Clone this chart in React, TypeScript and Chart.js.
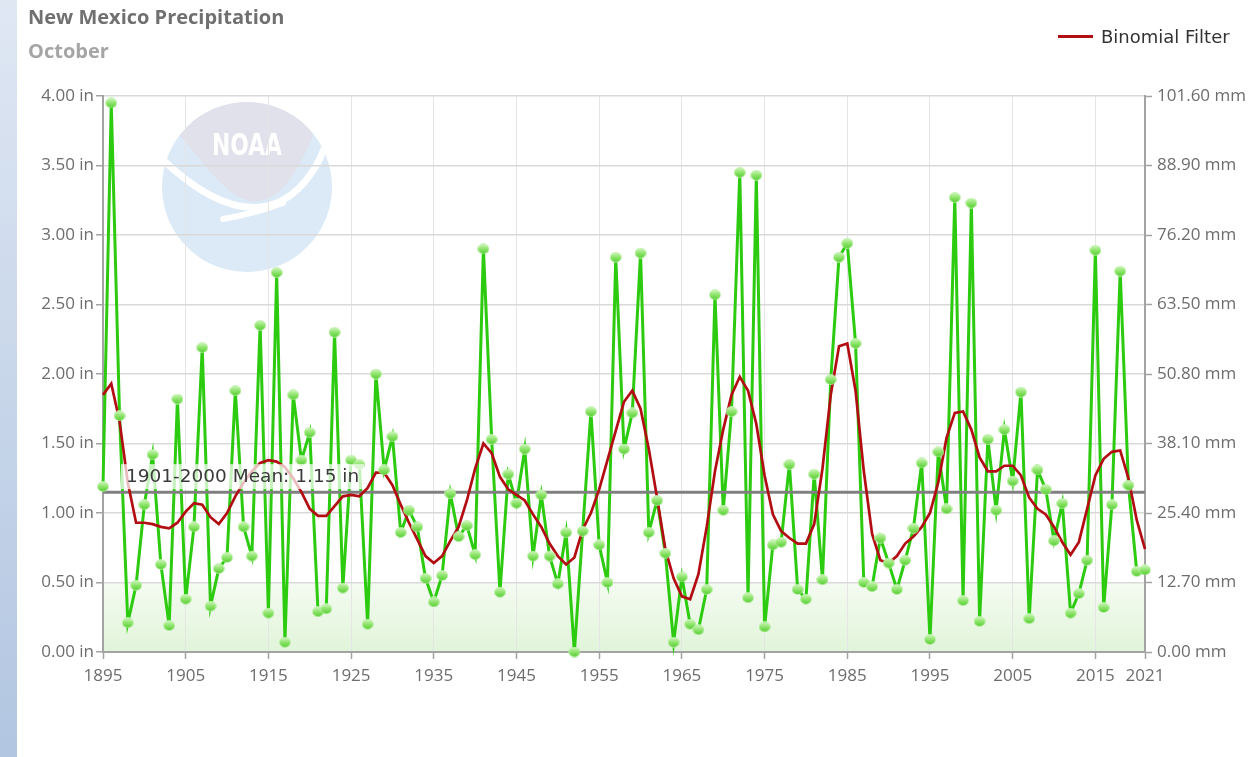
import React, { useEffect, useRef } from 'react';
import { Chart, registerables } from 'chart.js';

Chart.register(...registerables);

// ---------------- data ----------------
const START_YEAR = 1895;

// October precipitation, New Mexico (inches), 1895..2021
const PRECIP_IN = [
  1.19, 3.95, 1.70, 0.21, 0.48,
  1.06, 1.42, 0.63, 0.19, 1.82, 0.38, 0.90, 2.19, 0.33, 0.60,
  0.68, 1.88, 0.90, 0.69, 2.35, 0.28, 2.73, 0.07, 1.85, 1.38,
  1.58, 0.29, 0.31, 2.30, 0.46, 1.38, 1.35, 0.20, 2.00, 1.31,
  1.55, 0.86, 1.02, 0.90, 0.53, 0.36, 0.55, 1.14, 0.83, 0.91,
  0.70, 2.90, 1.53, 0.43, 1.28, 1.07, 1.46, 0.69, 1.13, 0.69,
  0.49, 0.86, 0.00, 0.87, 1.73, 0.77, 0.50, 2.84, 1.46, 1.72,
  2.87, 0.86, 1.09, 0.71, 0.07, 0.54, 0.20, 0.16, 0.45, 2.57,
  1.02, 1.73, 3.45, 0.39, 3.43, 0.18, 0.77, 0.79, 1.35, 0.45,
  0.38, 1.28, 0.52, 1.96, 2.84, 2.94, 2.22, 0.50, 0.47, 0.82,
  0.64, 0.45, 0.66, 0.89, 1.36, 0.09, 1.44, 1.03, 3.27, 0.37,
  3.23, 0.22, 1.53, 1.02, 1.60, 1.23, 1.87, 0.24, 1.31, 1.17,
  0.80, 1.07, 0.28, 0.42, 0.66, 2.89, 0.32, 1.06, 2.74, 1.20,
  0.58, 0.59,
];

// Binomial filter (inches), 1895..2021
const FILTER_IN = [
  1.85, 1.93, 1.66, 1.22, 0.93,
  0.93, 0.92, 0.90, 0.89, 0.93, 1.01, 1.07, 1.06, 0.97, 0.92,
  1.00, 1.12, 1.22, 1.30, 1.36, 1.38, 1.37, 1.33, 1.25, 1.15,
  1.03, 0.98, 0.98, 1.05, 1.12, 1.13, 1.12, 1.18, 1.29, 1.29,
  1.20, 1.06, 0.93, 0.81, 0.69, 0.64, 0.69, 0.80, 0.90, 1.09,
  1.32, 1.50, 1.43, 1.26, 1.17, 1.13, 1.09, 0.99, 0.90, 0.78,
  0.69, 0.63, 0.68, 0.88, 1.00, 1.17, 1.38, 1.59, 1.80, 1.88,
  1.75, 1.46, 1.11, 0.74, 0.53, 0.40, 0.38, 0.56, 0.90, 1.30,
  1.60, 1.85, 1.98, 1.88, 1.64, 1.27, 0.99, 0.87, 0.82, 0.78,
  0.78, 0.92, 1.32, 1.85, 2.20, 2.22, 1.88, 1.30, 0.85, 0.66,
  0.64, 0.69, 0.78, 0.83, 0.90, 1.00, 1.22, 1.54, 1.72, 1.73,
  1.60, 1.40, 1.30, 1.30, 1.34, 1.34, 1.27, 1.11, 1.03, 0.99,
  0.90, 0.79, 0.70, 0.79, 1.03, 1.27, 1.39, 1.44, 1.45, 1.25,
  0.95, 0.74,
];

const YEARS = PRECIP_IN.map((_, i) => START_YEAR + i);
const END_YEAR = YEARS[YEARS.length - 1];

const MEAN_1901_2000 = 1.15;
const YEAR_TICKS = [1895, 1905, 1915, 1925, 1935, 1945, 1955, 1965, 1975, 1985, 1995, 2005, 2015, 2021];
const IN_TICKS = [0, 0.5, 1, 1.5, 2, 2.5, 3, 3.5, 4];
const MM_PER_IN = 25.4;
const SHADE_TOP_IN = 0.5;

const TITLE = 'New Mexico Precipitation';
const SUBTITLE = 'October';
const LEGEND_LABEL = 'Binomial Filter';
const MEAN_LABEL = '1901-2000 Mean: 1.15 in';

// ---------------- styles ----------------
const GREEN = '#2ccb10';
const RED = '#b20d12';
const AXIS = '#a3a3a3';
const TICK_TEXT = '#6d6d6d';
const TICK_FONT = { family: '"Open Sans", sans-serif', size: 17 };

function makeMarker(): HTMLCanvasElement {
  const c = document.createElement('canvas');
  c.width = 12;
  c.height = 11;
  const g = c.getContext('2d')!;
  const grad = g.createLinearGradient(0, 0, 0, 11);
  grad.addColorStop(0, '#d8f9ca');
  grad.addColorStop(0.45, '#94e672');
  grad.addColorStop(1, '#4fcc2c');
  g.beginPath();
  g.ellipse(6, 5.5, 5.5, 5, 0, 0, Math.PI * 2);
  g.fillStyle = grad;
  g.fill();
  g.lineWidth = 0.8;
  g.strokeStyle = 'rgba(190,240,170,0.9)';
  g.stroke();
  return c;
}

const backdropPlugin = {
  id: 'backdrop',
  beforeDraw(chart: any) {
    const { ctx, chartArea } = chart;
    const y = chart.scales.y;
    const { left, right, top } = chartArea;
    // light green band
    const y0 = y.getPixelForValue(0);
    const y1 = y.getPixelForValue(SHADE_TOP_IN);
    ctx.save();
    const band = ctx.createLinearGradient(0, y1, 0, y0);
    band.addColorStop(0, '#f4fbf1');
    band.addColorStop(1, '#e1f4da');
    ctx.fillStyle = band;
    ctx.fillRect(left, y1, right - left, y0 - y1);
    ctx.restore();

    // NOAA watermark
    const cx = left + 144;
    const cy = top + 91;
    const r = 85;
    ctx.save();
    ctx.beginPath();
    ctx.arc(cx, cy, r, 0, Math.PI * 2);
    ctx.fillStyle = '#dbeaf6';
    ctx.fill();
    ctx.clip();
    ctx.beginPath();
    ctx.moveTo(cx - 70, cy - 55);
    ctx.bezierCurveTo(cx - 40, cy - 20, cx - 15, cy + 18, cx + 12, cy + 14);
    ctx.bezierCurveTo(cx + 40, cy + 10, cx + 58, cy - 30, cx + 68, cy - 58);
    ctx.lineTo(cx + 100, cy - 110);
    ctx.lineTo(cx - 100, cy - 110);
    ctx.closePath();
    ctx.fillStyle = '#e0e1ea';
    ctx.fill();
    ctx.strokeStyle = '#ffffff';
    ctx.lineCap = 'round';
    ctx.lineWidth = 7;
    ctx.beginPath();
    ctx.moveTo(cx - 85, cy - 28);
    ctx.bezierCurveTo(cx - 45, cy + 10, cx - 5, cy + 30, cx + 30, cy + 16);
    ctx.bezierCurveTo(cx + 55, cy + 5, cx + 70, cy - 20, cx + 78, cy - 40);
    ctx.stroke();
    ctx.lineWidth = 6;
    ctx.beginPath();
    ctx.moveTo(cx - 24, cy + 32);
    ctx.quadraticCurveTo(cx + 10, cy + 26, cx + 36, cy + 16);
    ctx.stroke();
    ctx.font = 'bold 30px "DejaVu Sans"';
    const tw = ctx.measureText('NOAA').width;
    ctx.translate(cx, cy - 32);
    ctx.scale(70 / tw, 1);
    ctx.fillStyle = '#ffffff';
    ctx.textAlign = 'center';
    ctx.textBaseline = 'alphabetic';
    ctx.fillText('NOAA', 0, 0);
    ctx.restore();
  },
};

const meanLabelPlugin = {
  id: 'meanLabel',
  afterDatasetsDraw(chart: any) {
    const { ctx, chartArea } = chart;
    const yp = chart.scales.y.getPixelForValue(MEAN_1901_2000);
    const x = chartArea.left + 23;
    ctx.save();
    ctx.font = '18.5px "DejaVu Sans"';
    const w = ctx.measureText(MEAN_LABEL).width;
    ctx.fillStyle = 'rgba(255,255,255,0.72)';
    ctx.fillRect(x - 5, yp - 28, w + 10, 25);
    ctx.fillStyle = '#3a3a3a';
    ctx.textBaseline = 'alphabetic';
    ctx.fillText(MEAN_LABEL, x, yp - 10);
    ctx.restore();
  },
};

export default function App() {
  const ref = useRef<HTMLCanvasElement | null>(null);

  useEffect(() => {
    if (!ref.current) return;
    const marker = makeMarker();
    const precipPts = PRECIP_IN.map((v, i) => ({ x: YEARS[i], y: v }));
    const filterPts = FILTER_IN.map((v, i) => ({ x: YEARS[i], y: v }));
    const meanPts = [
      { x: START_YEAR, y: MEAN_1901_2000 },
      { x: END_YEAR, y: MEAN_1901_2000 },
    ];
    const setTicks = (vals: number[]) => (s: any) => {
      s.ticks = vals.map((v) => ({ value: v }));
    };

    const chart = new Chart(ref.current, {
      type: 'line',
      data: {
        datasets: [
          {
            label: 'Precipitation',
            data: precipPts,
            borderColor: GREEN,
            borderWidth: 3,
            pointRadius: 0,
            tension: 0,
            fill: false,
            order: 4,
            clip: false,
          },
          {
            label: '1901-2000 Mean',
            data: meanPts,
            borderColor: '#808080',
            borderWidth: 3,
            pointRadius: 0,
            fill: false,
            order: 3,
            clip: false,
          },
          {
            label: LEGEND_LABEL,
            data: filterPts,
            borderColor: RED,
            borderWidth: 2.7,
            pointRadius: 0,
            tension: 0,
            fill: false,
            order: 2,
            clip: false,
          },
          {
            label: 'Precipitation points',
            data: precipPts,
            showLine: false,
            pointStyle: marker as any,
            pointRadius: 5,
            order: 1,
            clip: false,
          },
        ],
      },
      options: {
        responsive: false,
        devicePixelRatio: 1,
        animation: false,
        events: [],
        layout: { padding: { top: 96, left: 0, right: 0, bottom: 0 } },
        plugins: {
          legend: { display: false },
          tooltip: { enabled: false },
          title: { display: false },
        },
        scales: {
          x: {
            type: 'linear',
            min: START_YEAR,
            max: END_YEAR,
            afterBuildTicks: setTicks(YEAR_TICKS),
            afterFit: (s: any) => {
              s.height = 105;
            },
            ticks: {
              autoSkip: false,
              maxRotation: 0,
              color: TICK_TEXT,
              font: TICK_FONT,
              padding: 7,
              callback: (v: any) => String(v),
            },
            grid: { color: '#e5e5e5', lineWidth: 1, tickLength: 7, tickColor: AXIS, tickWidth: 1.5 },
            border: { color: AXIS, width: 2 },
          },
          y: {
            position: 'left',
            min: 0,
            max: 4,
            afterBuildTicks: setTicks(IN_TICKS),
            afterFit: (s: any) => {
              s.width = 103;
            },
            ticks: {
              color: TICK_TEXT,
              font: TICK_FONT,
              padding: 2,
              callback: (v: any) => Number(v).toFixed(2) + ' in',
            },
            grid: { color: '#d9d9d9', lineWidth: 1.5, tickLength: 7, tickColor: AXIS, tickWidth: 1.5 },
            border: { color: AXIS, width: 2 },
          },
          y2: {
            position: 'right',
            min: 0,
            max: 4,
            afterBuildTicks: setTicks(IN_TICKS),
            afterFit: (s: any) => {
              s.width = 112;
            },
            ticks: {
              color: TICK_TEXT,
              font: TICK_FONT,
              padding: 5,
              callback: (v: any) => (Number(v) * MM_PER_IN).toFixed(2) + ' mm',
            },
            grid: { drawOnChartArea: false, tickLength: 7, tickColor: AXIS, tickWidth: 1.5 },
            border: { color: AXIS, width: 2 },
          },
        },
      },
      plugins: [backdropPlugin, meanLabelPlugin],
    } as any);

    return () => chart.destroy();
  }, []);

  return (
    <div
      style={{
        position: 'fixed',
        left: 0,
        top: 0,
        width: 1257,
        height: 757,
        background: '#ffffff',
        overflow: 'hidden',
      }}
    >
      <div
        style={{
          position: 'absolute',
          left: 0,
          top: 0,
          width: 17,
          height: 757,
          background: 'linear-gradient(to bottom, #dfe7f3, #b2c6e1)',
        }}
      />
      <canvas
        ref={ref}
        width={1257}
        height={757}
        style={{ position: 'absolute', left: 0, top: 0, width: 1257, height: 757 }}
      />
      <div
        style={{
          position: 'absolute',
          left: 28,
          top: 7,
          font: 'bold 20px "Open Sans", sans-serif',
          lineHeight: '20px',
          color: '#707070',
          whiteSpace: 'nowrap',
        }}
      >
        {TITLE}
      </div>
      <div
        style={{
          position: 'absolute',
          left: 28,
          top: 41,
          font: 'bold 20px "Open Sans", sans-serif',
          lineHeight: '20px',
          color: '#a5a5a5',
          whiteSpace: 'nowrap',
        }}
      >
        {SUBTITLE}
      </div>
      <div
        style={{
          position: 'absolute',
          left: 1058,
          top: 35,
          width: 35,
          height: 3,
          background: RED,
        }}
      />
      <div
        style={{
          position: 'absolute',
          left: 1101,
          top: 28,
          font: '18px "DejaVu Sans", sans-serif',
          lineHeight: '18px',
          color: '#333333',
          whiteSpace: 'nowrap',
        }}
      >
        {LEGEND_LABEL}
      </div>
    </div>
  );
}
